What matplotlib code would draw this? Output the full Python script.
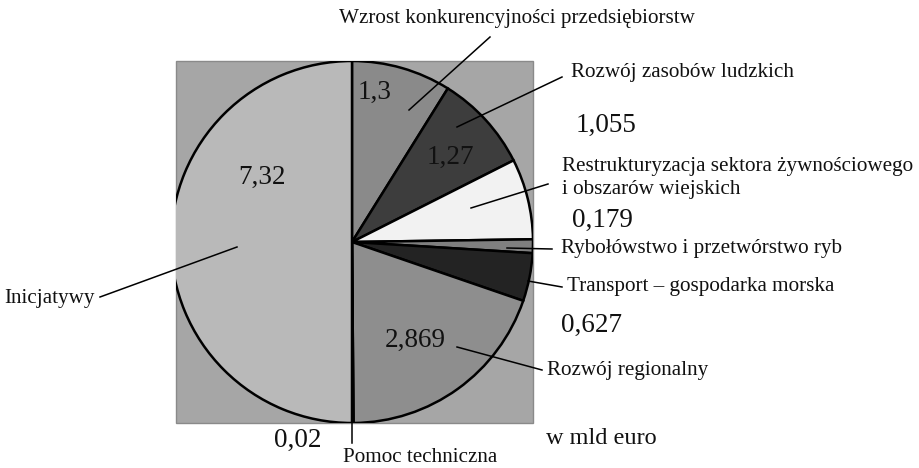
import matplotlib
matplotlib.use("Agg")
import matplotlib.pyplot as plt
from matplotlib.patches import Rectangle

plt.rcParams['font.family'] = ['Liberation Serif', 'DejaVu Serif']

# data (w mld euro), clockwise from 12 o'clock
labels = ["Wzrost konkurencyjności przedsiębiorstw",
          "Rozwój zasobów ludzkich",
          "Restrukturyzacja sektora żywnościowego\ni obszarów wiejskich",
          "Rybołówstwo i przetwórstwo ryb",
          "Transport – gospodarka morska",
          "Rozwój regionalny",
          "Pomoc techniczna",
          "Inicjatywy"]
values = [1.3, 1.27, 1.055, 0.179, 0.627, 2.869, 0.02, 7.32]
value_text = ["1,3", "1,27", "1,055", "0,179", "0,627", "2,869", "0,02", "7,32"]
colors = ["#8a8a8a", "#3d3d3d", "#f2f2f2", "#7f7f7f", "#232323", "#8e8e8e", "#202020", "#b9b9b9"]

W, H = 919, 468
fig = plt.figure(figsize=(W / 100, H / 100), dpi=100)
ax = fig.add_axes([0, 0, 1, 1])

def Y(y):
    # pixel row -> data y
    return H - y

cx, cy, r = 352, Y(242), 181
box = Rectangle((176, Y(423)), 533 - 176, 423 - 61, facecolor="#a6a6a6",
                edgecolor="#8a8a8a", lw=1, zorder=0)
ax.add_patch(box)

wedges, _ = ax.pie(values, colors=colors, startangle=90, counterclock=False,
                   center=(cx, cy), radius=r, frame=True,
                   wedgeprops=dict(edgecolor="black", linewidth=1.8))
for w in wedges:
    w.set_clip_path(box)
    w.set_clip_on(True)

# value labels
num_pos = [(375, 92), (450, 157), (606, 125), (602, 220), (591, 325),
           (415, 340), (298, 440), (262, 177)]
for t, (x, y) in zip(value_text, num_pos):
    ax.text(x, Y(y), t, fontsize=19.5, ha="center", va="center", color="#111111")

# category labels with leader lines: (line start, line end, text pos, ha)
callouts = [
    ((409, 110), (490, 37), (517, 18), "center"),
    ((457, 127), (562, 77), (571, 72), "left"),
    ((471, 208), (548, 184), (562, 178), "left"),
    ((507, 248), (552, 249), (561, 249), "left"),
    ((528, 281), (562, 287), (567, 287), "left"),
    ((457, 347), (542, 370), (547, 371), "left"),
    ((352, 423), (352, 443), (420, 458), "center"),
    ((237, 247), (100, 297), (50, 299), "center"),
]
for lab, (p0, p1, tp, ha) in zip(labels, callouts):
    ax.plot([p0[0], p1[0]], [Y(p0[1]), Y(p1[1])], color="black", lw=1.1, zorder=5)
    ax.text(tp[0], Y(tp[1]), lab, fontsize=15.2, ha=ha, va="center",
            linespacing=1.25, color="#111111")

ax.text(601, Y(438), "w mld euro", fontsize=17.5, ha="center", va="center",
        color="#111111")

ax.set_xlim(0, W)
ax.set_ylim(0, H)
ax.set_aspect("equal")
ax.axis("off")

fig.savefig("out.png", dpi=100, facecolor="white")
